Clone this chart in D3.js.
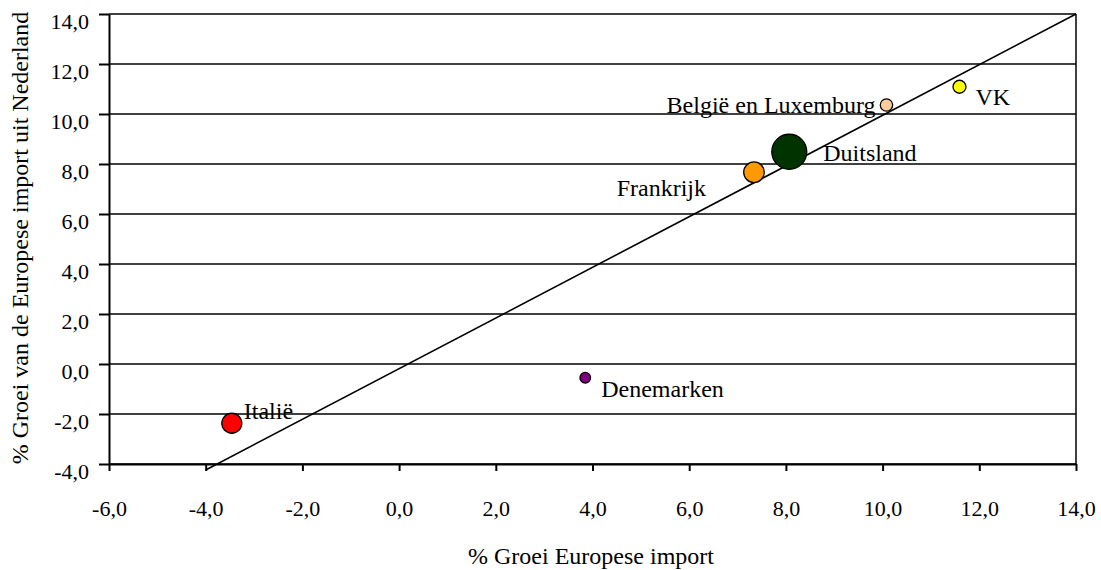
<!DOCTYPE html>
<html>
<head>
<meta charset="utf-8">
<script src="https://cdn.jsdelivr.net/npm/d3@7"></script>
<style>
  html, body { margin: 0; padding: 0; background: #fff; }
  svg { display: block; font-family: "Liberation Serif", "Times New Roman", serif; }
</style>
</head>
<body>
<svg id="chart" width="1101" height="570"></svg>
<script>
// Import growth per country: European import vs. import from the Netherlands
const countries = ["Italië", "Denemarken", "Frankrijk", "Duitsland", "België en Luxemburg", "VK"];
const europeanGrowth = [-3.46, 3.85, 7.34, 8.07, 10.08, 11.59];
const dutchGrowth = [-2.37, -0.55, 7.67, 8.49, 10.36, 11.09];
const bubbleSize = [10.0, 2.8, 10.6, 30.6, 3.8, 4.2];
const bubbleColors = ["#ff0000", "#800080", "#ff9900", "#003300", "#ffcc99", "#ffff00"];

const xTicks = [-6, -4, -2, 0, 2, 4, 6, 8, 10, 12, 14];
const yTicks = [-4, -2, 0, 2, 4, 6, 8, 10, 12, 14];

// Reference line through the cloud
const refLineX = [-4, 14];
const refLineY = [-4.24, 14];

const xTitle = "% Groei Europese import";
const yTitle = "% Groei van de Europese import uit Nederland";

// Label placement relative to each bubble
const labelLayout = [
  { dx: 12, dy: -4, anchor: "start" },
  { dx: 16, dy: 19, anchor: "start" },
  { dx: -48, dy: 24, anchor: "end" },
  { dx: 34, dy: 9, anchor: "start" },
  { dx: -11, dy: 8, anchor: "end" },
  { dx: 16, dy: 18, anchor: "start" }
];

const svg = d3.select("#chart");
const plotLeft = 109, plotRight = 1076, plotTop = 14, plotBottom = 464;

const fmt = v => d3.format(".1f")(v).replace(".", ",").replace("−", "-");

const x = d3.scaleLinear().domain([-6, 14]).range([plotLeft, plotRight]);
const y = d3.scaleLinear().domain([-4, 14]).range([plotBottom, plotTop]);
const r = d3.scaleSqrt().domain([0, d3.max(bubbleSize)]).range([0, 17.5]);

// Horizontal gridlines
svg.append("g")
  .selectAll("line")
  .data(yTicks)
  .join("line")
  .attr("x1", plotLeft).attr("x2", plotRight)
  .attr("y1", d => y(d)).attr("y2", d => y(d))
  .attr("stroke", "#000").attr("stroke-width", 1.3);

// Right border
svg.append("line")
  .attr("x1", plotRight).attr("x2", plotRight)
  .attr("y1", plotTop).attr("y2", plotBottom)
  .attr("stroke", "#000").attr("stroke-width", 1.5);

// Y axis
const yAxis = svg.append("g")
  .attr("transform", `translate(${plotLeft},0)`)
  .call(d3.axisLeft(y).tickValues(yTicks).tickFormat(fmt).tickSize(10).tickPadding(0).tickSizeOuter(0));
yAxis.select(".domain").attr("stroke-width", 2);
yAxis.selectAll(".tick line").attr("stroke-width", 2);
yAxis.selectAll(".tick text")
  .attr("x", -20)
  .attr("dy", 14)
  .attr("font-size", 22)
  .attr("font-family", "Liberation Serif")
  .attr("fill", "#000");

// X axis
const xAxis = svg.append("g")
  .attr("transform", `translate(0,${plotBottom})`)
  .call(d3.axisBottom(x).tickValues(xTicks).tickFormat(fmt).tickSize(7).tickSizeOuter(0));
xAxis.select(".domain").attr("stroke-width", 2);
xAxis.selectAll(".tick line").attr("stroke-width", 2);
xAxis.selectAll(".tick text")
  .attr("y", 52)
  .attr("dy", 0)
  .attr("font-size", 22)
  .attr("font-family", "Liberation Serif")
  .attr("fill", "#000");

// Reference line
svg.append("line")
  .attr("x1", x(refLineX[0])).attr("y1", y(refLineY[0]))
  .attr("x2", x(refLineX[1])).attr("y2", y(refLineY[1]))
  .attr("stroke", "#000").attr("stroke-width", 1.6);

// Bubbles, largest drawn first
const pts = countries.map((c, i) => ({
  name: c, gx: europeanGrowth[i], gy: dutchGrowth[i], size: bubbleSize[i],
  color: bubbleColors[i], lab: labelLayout[i]
}));

svg.append("g")
  .selectAll("circle")
  .data(pts.slice().sort((a, b) => b.size - a.size))
  .join("circle")
  .attr("cx", d => x(d.gx))
  .attr("cy", d => y(d.gy))
  .attr("r", d => r(d.size))
  .attr("fill", d => d.color)
  .attr("stroke", "#000")
  .attr("stroke-width", 1.3);

// Country labels
svg.append("g")
  .selectAll("text")
  .data(pts)
  .join("text")
  .attr("x", d => x(d.gx) + d.lab.dx)
  .attr("y", d => y(d.gy) + d.lab.dy)
  .attr("text-anchor", d => d.lab.anchor)
  .attr("font-size", 24)
  .attr("fill", "#000")
  .text(d => d.name);

// Axis titles
svg.append("text")
  .attr("x", 591)
  .attr("y", 564)
  .attr("text-anchor", "middle")
  .attr("font-size", 24)
  .text(xTitle);

svg.append("text")
  .attr("transform", `translate(28,${(plotTop + plotBottom) / 2 - 1}) rotate(-90)`)
  .attr("text-anchor", "middle")
  .attr("font-size", 24)
  .text(yTitle);
</script>
</body>
</html>
